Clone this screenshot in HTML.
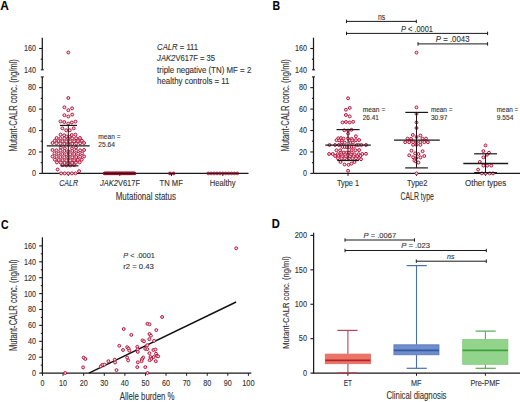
<!DOCTYPE html>
<html><head><meta charset="utf-8"><title>Mutant CALR figure</title>
<style>
html,body{margin:0;padding:0;background:#fff;}
body{width:520px;height:402px;overflow:hidden;}
svg{display:block;font-family:"Liberation Sans", sans-serif;}
text{stroke:#333;stroke-width:0.12px;}
</style></head>
<body>
<svg width="520" height="402" viewBox="0 0 520 402">
<rect width="520" height="402" fill="#fff"/>
<text x="0.20" y="9.80" font-size="12.2" text-anchor="start" font-weight="bold" font-style="normal" fill="#000" textLength="8.60" lengthAdjust="spacingAndGlyphs">A</text>
<line x1="42.30" y1="37.70" x2="42.30" y2="69.80" stroke="#1a1a1a" stroke-width="1.25"/>
<line x1="40.80" y1="69.80" x2="43.80" y2="69.80" stroke="#1a1a1a" stroke-width="1.1"/>
<line x1="42.30" y1="76.90" x2="42.30" y2="173.40" stroke="#1a1a1a" stroke-width="1.25"/>
<line x1="40.80" y1="76.90" x2="43.80" y2="76.90" stroke="#1a1a1a" stroke-width="1.1"/>
<line x1="39.10" y1="48.50" x2="42.30" y2="48.50" stroke="#1a1a1a" stroke-width="1.1"/>
<line x1="40.70" y1="59.20" x2="42.30" y2="59.20" stroke="#1a1a1a" stroke-width="1.1"/>
<line x1="39.10" y1="87.64" x2="42.30" y2="87.64" stroke="#1a1a1a" stroke-width="1.1"/>
<line x1="39.10" y1="109.08" x2="42.30" y2="109.08" stroke="#1a1a1a" stroke-width="1.1"/>
<line x1="39.10" y1="130.52" x2="42.30" y2="130.52" stroke="#1a1a1a" stroke-width="1.1"/>
<line x1="39.10" y1="151.96" x2="42.30" y2="151.96" stroke="#1a1a1a" stroke-width="1.1"/>
<line x1="39.10" y1="173.40" x2="42.30" y2="173.40" stroke="#1a1a1a" stroke-width="1.1"/>
<line x1="40.70" y1="98.36" x2="42.30" y2="98.36" stroke="#1a1a1a" stroke-width="1.1"/>
<line x1="40.70" y1="119.80" x2="42.30" y2="119.80" stroke="#1a1a1a" stroke-width="1.1"/>
<line x1="40.70" y1="141.24" x2="42.30" y2="141.24" stroke="#1a1a1a" stroke-width="1.1"/>
<line x1="40.70" y1="162.68" x2="42.30" y2="162.68" stroke="#1a1a1a" stroke-width="1.1"/>
<text x="35.90" y="51.30" font-size="8.5" text-anchor="end" font-weight="normal" font-style="normal" fill="#333333" textLength="12.00" lengthAdjust="spacingAndGlyphs">160</text>
<text x="35.90" y="72.70" font-size="8.5" text-anchor="end" font-weight="normal" font-style="normal" fill="#333333" textLength="12.00" lengthAdjust="spacingAndGlyphs">140</text>
<text x="35.90" y="90.44" font-size="8.5" text-anchor="end" font-weight="normal" font-style="normal" fill="#333333" textLength="8.00" lengthAdjust="spacingAndGlyphs">80</text>
<text x="35.90" y="111.88" font-size="8.5" text-anchor="end" font-weight="normal" font-style="normal" fill="#333333" textLength="8.00" lengthAdjust="spacingAndGlyphs">60</text>
<text x="35.90" y="133.32" font-size="8.5" text-anchor="end" font-weight="normal" font-style="normal" fill="#333333" textLength="8.00" lengthAdjust="spacingAndGlyphs">40</text>
<text x="35.90" y="154.76" font-size="8.5" text-anchor="end" font-weight="normal" font-style="normal" fill="#333333" textLength="8.00" lengthAdjust="spacingAndGlyphs">20</text>
<text x="35.90" y="176.20" font-size="8.5" text-anchor="end" font-weight="normal" font-style="normal" fill="#333333" textLength="4.00" lengthAdjust="spacingAndGlyphs">0</text>
<line x1="42.30" y1="173.40" x2="248.50" y2="173.40" stroke="#1a1a1a" stroke-width="1.25"/>
<line x1="68.30" y1="173.40" x2="68.30" y2="175.90" stroke="#1a1a1a" stroke-width="1.0"/>
<line x1="119.80" y1="173.40" x2="119.80" y2="175.90" stroke="#1a1a1a" stroke-width="1.0"/>
<line x1="171.50" y1="173.40" x2="171.50" y2="175.90" stroke="#1a1a1a" stroke-width="1.0"/>
<line x1="222.80" y1="173.40" x2="222.80" y2="175.90" stroke="#1a1a1a" stroke-width="1.0"/>
<text transform="translate(17.30,151.60) rotate(-90)" x="0" y="0" font-size="10.0" fill="#333333" textLength="92.50" lengthAdjust="spacingAndGlyphs">Mutant-CALR conc. (ng/ml)</text>
<circle cx="68.30" cy="52.50" r="1.45" fill="#fbdde3" stroke="#b8123a" stroke-width="1.0"/>
<circle cx="68.30" cy="98.00" r="1.45" fill="#fbdde3" stroke="#b8123a" stroke-width="1.0"/>
<circle cx="64.40" cy="107.30" r="1.45" fill="#fbdde3" stroke="#b8123a" stroke-width="1.0"/>
<circle cx="68.30" cy="110.20" r="1.45" fill="#fbdde3" stroke="#b8123a" stroke-width="1.0"/>
<circle cx="72.10" cy="108.30" r="1.45" fill="#fbdde3" stroke="#b8123a" stroke-width="1.0"/>
<circle cx="64.40" cy="115.20" r="1.45" fill="#fbdde3" stroke="#b8123a" stroke-width="1.0"/>
<circle cx="68.30" cy="116.50" r="1.45" fill="#fbdde3" stroke="#b8123a" stroke-width="1.0"/>
<circle cx="72.20" cy="114.60" r="1.45" fill="#fbdde3" stroke="#b8123a" stroke-width="1.0"/>
<circle cx="60.50" cy="121.40" r="1.45" fill="#fbdde3" stroke="#b8123a" stroke-width="1.0"/>
<circle cx="64.20" cy="122.00" r="1.45" fill="#fbdde3" stroke="#b8123a" stroke-width="1.0"/>
<circle cx="68.20" cy="123.50" r="1.45" fill="#fbdde3" stroke="#b8123a" stroke-width="1.0"/>
<circle cx="71.80" cy="122.50" r="1.45" fill="#fbdde3" stroke="#b8123a" stroke-width="1.0"/>
<circle cx="75.50" cy="121.60" r="1.45" fill="#fbdde3" stroke="#b8123a" stroke-width="1.0"/>
<circle cx="62.40" cy="128.30" r="1.45" fill="#fbdde3" stroke="#b8123a" stroke-width="1.0"/>
<circle cx="73.70" cy="128.30" r="1.45" fill="#fbdde3" stroke="#b8123a" stroke-width="1.0"/>
<circle cx="66.20" cy="130.30" r="1.45" fill="#fbdde3" stroke="#b8123a" stroke-width="1.0"/>
<circle cx="69.80" cy="130.30" r="1.45" fill="#fbdde3" stroke="#b8123a" stroke-width="1.0"/>
<circle cx="60.50" cy="134.60" r="1.45" fill="#fbdde3" stroke="#b8123a" stroke-width="1.0"/>
<circle cx="64.20" cy="135.30" r="1.45" fill="#fbdde3" stroke="#b8123a" stroke-width="1.0"/>
<circle cx="71.80" cy="135.00" r="1.45" fill="#fbdde3" stroke="#b8123a" stroke-width="1.0"/>
<circle cx="75.50" cy="134.60" r="1.45" fill="#fbdde3" stroke="#b8123a" stroke-width="1.0"/>
<circle cx="66.60" cy="136.60" r="1.45" fill="#fbdde3" stroke="#b8123a" stroke-width="1.0"/>
<circle cx="69.80" cy="137.00" r="1.45" fill="#fbdde3" stroke="#b8123a" stroke-width="1.0"/>
<circle cx="56.60" cy="138.00" r="1.45" fill="#fbdde3" stroke="#b8123a" stroke-width="1.0"/>
<circle cx="60.50" cy="138.20" r="1.45" fill="#fbdde3" stroke="#b8123a" stroke-width="1.0"/>
<circle cx="64.40" cy="138.40" r="1.45" fill="#fbdde3" stroke="#b8123a" stroke-width="1.0"/>
<circle cx="68.30" cy="138.60" r="1.45" fill="#fbdde3" stroke="#b8123a" stroke-width="1.0"/>
<circle cx="72.20" cy="138.40" r="1.45" fill="#fbdde3" stroke="#b8123a" stroke-width="1.0"/>
<circle cx="76.10" cy="138.20" r="1.45" fill="#fbdde3" stroke="#b8123a" stroke-width="1.0"/>
<circle cx="80.00" cy="138.00" r="1.45" fill="#fbdde3" stroke="#b8123a" stroke-width="1.0"/>
<circle cx="54.65" cy="140.80" r="1.45" fill="#fbdde3" stroke="#b8123a" stroke-width="1.0"/>
<circle cx="58.55" cy="141.03" r="1.45" fill="#fbdde3" stroke="#b8123a" stroke-width="1.0"/>
<circle cx="62.45" cy="141.26" r="1.45" fill="#fbdde3" stroke="#b8123a" stroke-width="1.0"/>
<circle cx="66.35" cy="141.49" r="1.45" fill="#fbdde3" stroke="#b8123a" stroke-width="1.0"/>
<circle cx="70.25" cy="141.49" r="1.45" fill="#fbdde3" stroke="#b8123a" stroke-width="1.0"/>
<circle cx="74.15" cy="141.26" r="1.45" fill="#fbdde3" stroke="#b8123a" stroke-width="1.0"/>
<circle cx="78.05" cy="141.03" r="1.45" fill="#fbdde3" stroke="#b8123a" stroke-width="1.0"/>
<circle cx="81.95" cy="140.80" r="1.45" fill="#fbdde3" stroke="#b8123a" stroke-width="1.0"/>
<circle cx="52.50" cy="143.00" r="1.45" fill="#fbdde3" stroke="#b8123a" stroke-width="1.0"/>
<circle cx="56.45" cy="143.30" r="1.45" fill="#fbdde3" stroke="#b8123a" stroke-width="1.0"/>
<circle cx="60.40" cy="143.60" r="1.45" fill="#fbdde3" stroke="#b8123a" stroke-width="1.0"/>
<circle cx="64.35" cy="143.90" r="1.45" fill="#fbdde3" stroke="#b8123a" stroke-width="1.0"/>
<circle cx="68.30" cy="144.20" r="1.45" fill="#fbdde3" stroke="#b8123a" stroke-width="1.0"/>
<circle cx="72.25" cy="143.90" r="1.45" fill="#fbdde3" stroke="#b8123a" stroke-width="1.0"/>
<circle cx="76.20" cy="143.60" r="1.45" fill="#fbdde3" stroke="#b8123a" stroke-width="1.0"/>
<circle cx="80.15" cy="143.30" r="1.45" fill="#fbdde3" stroke="#b8123a" stroke-width="1.0"/>
<circle cx="84.10" cy="143.00" r="1.45" fill="#fbdde3" stroke="#b8123a" stroke-width="1.0"/>
<circle cx="60.80" cy="147.60" r="1.45" fill="#fbdde3" stroke="#b8123a" stroke-width="1.0"/>
<circle cx="64.80" cy="148.40" r="1.45" fill="#fbdde3" stroke="#b8123a" stroke-width="1.0"/>
<circle cx="72.00" cy="148.40" r="1.45" fill="#fbdde3" stroke="#b8123a" stroke-width="1.0"/>
<circle cx="76.00" cy="147.60" r="1.45" fill="#fbdde3" stroke="#b8123a" stroke-width="1.0"/>
<circle cx="52.50" cy="150.00" r="1.45" fill="#fbdde3" stroke="#b8123a" stroke-width="1.0"/>
<circle cx="56.45" cy="150.30" r="1.45" fill="#fbdde3" stroke="#b8123a" stroke-width="1.0"/>
<circle cx="60.40" cy="150.60" r="1.45" fill="#fbdde3" stroke="#b8123a" stroke-width="1.0"/>
<circle cx="64.35" cy="150.90" r="1.45" fill="#fbdde3" stroke="#b8123a" stroke-width="1.0"/>
<circle cx="68.30" cy="151.20" r="1.45" fill="#fbdde3" stroke="#b8123a" stroke-width="1.0"/>
<circle cx="72.25" cy="150.90" r="1.45" fill="#fbdde3" stroke="#b8123a" stroke-width="1.0"/>
<circle cx="76.20" cy="150.60" r="1.45" fill="#fbdde3" stroke="#b8123a" stroke-width="1.0"/>
<circle cx="80.15" cy="150.30" r="1.45" fill="#fbdde3" stroke="#b8123a" stroke-width="1.0"/>
<circle cx="84.10" cy="150.00" r="1.45" fill="#fbdde3" stroke="#b8123a" stroke-width="1.0"/>
<circle cx="54.47" cy="153.40" r="1.45" fill="#fbdde3" stroke="#b8123a" stroke-width="1.0"/>
<circle cx="58.42" cy="153.69" r="1.45" fill="#fbdde3" stroke="#b8123a" stroke-width="1.0"/>
<circle cx="62.38" cy="153.97" r="1.45" fill="#fbdde3" stroke="#b8123a" stroke-width="1.0"/>
<circle cx="66.33" cy="154.26" r="1.45" fill="#fbdde3" stroke="#b8123a" stroke-width="1.0"/>
<circle cx="70.27" cy="154.26" r="1.45" fill="#fbdde3" stroke="#b8123a" stroke-width="1.0"/>
<circle cx="74.22" cy="153.97" r="1.45" fill="#fbdde3" stroke="#b8123a" stroke-width="1.0"/>
<circle cx="78.17" cy="153.69" r="1.45" fill="#fbdde3" stroke="#b8123a" stroke-width="1.0"/>
<circle cx="82.12" cy="153.40" r="1.45" fill="#fbdde3" stroke="#b8123a" stroke-width="1.0"/>
<circle cx="52.50" cy="156.50" r="1.45" fill="#fbdde3" stroke="#b8123a" stroke-width="1.0"/>
<circle cx="56.45" cy="156.75" r="1.45" fill="#fbdde3" stroke="#b8123a" stroke-width="1.0"/>
<circle cx="60.40" cy="157.00" r="1.45" fill="#fbdde3" stroke="#b8123a" stroke-width="1.0"/>
<circle cx="64.35" cy="157.25" r="1.45" fill="#fbdde3" stroke="#b8123a" stroke-width="1.0"/>
<circle cx="68.30" cy="157.50" r="1.45" fill="#fbdde3" stroke="#b8123a" stroke-width="1.0"/>
<circle cx="72.25" cy="157.25" r="1.45" fill="#fbdde3" stroke="#b8123a" stroke-width="1.0"/>
<circle cx="76.20" cy="157.00" r="1.45" fill="#fbdde3" stroke="#b8123a" stroke-width="1.0"/>
<circle cx="80.15" cy="156.75" r="1.45" fill="#fbdde3" stroke="#b8123a" stroke-width="1.0"/>
<circle cx="84.10" cy="156.50" r="1.45" fill="#fbdde3" stroke="#b8123a" stroke-width="1.0"/>
<circle cx="54.82" cy="159.70" r="1.45" fill="#fbdde3" stroke="#b8123a" stroke-width="1.0"/>
<circle cx="58.67" cy="159.93" r="1.45" fill="#fbdde3" stroke="#b8123a" stroke-width="1.0"/>
<circle cx="62.52" cy="160.16" r="1.45" fill="#fbdde3" stroke="#b8123a" stroke-width="1.0"/>
<circle cx="66.38" cy="160.39" r="1.45" fill="#fbdde3" stroke="#b8123a" stroke-width="1.0"/>
<circle cx="70.22" cy="160.39" r="1.45" fill="#fbdde3" stroke="#b8123a" stroke-width="1.0"/>
<circle cx="74.08" cy="160.16" r="1.45" fill="#fbdde3" stroke="#b8123a" stroke-width="1.0"/>
<circle cx="77.92" cy="159.93" r="1.45" fill="#fbdde3" stroke="#b8123a" stroke-width="1.0"/>
<circle cx="81.77" cy="159.70" r="1.45" fill="#fbdde3" stroke="#b8123a" stroke-width="1.0"/>
<circle cx="56.90" cy="162.40" r="1.45" fill="#fbdde3" stroke="#b8123a" stroke-width="1.0"/>
<circle cx="60.70" cy="162.67" r="1.45" fill="#fbdde3" stroke="#b8123a" stroke-width="1.0"/>
<circle cx="64.50" cy="162.93" r="1.45" fill="#fbdde3" stroke="#b8123a" stroke-width="1.0"/>
<circle cx="68.30" cy="163.20" r="1.45" fill="#fbdde3" stroke="#b8123a" stroke-width="1.0"/>
<circle cx="72.10" cy="162.93" r="1.45" fill="#fbdde3" stroke="#b8123a" stroke-width="1.0"/>
<circle cx="75.90" cy="162.67" r="1.45" fill="#fbdde3" stroke="#b8123a" stroke-width="1.0"/>
<circle cx="79.70" cy="162.40" r="1.45" fill="#fbdde3" stroke="#b8123a" stroke-width="1.0"/>
<circle cx="62.45" cy="165.20" r="1.45" fill="#fbdde3" stroke="#b8123a" stroke-width="1.0"/>
<circle cx="66.35" cy="165.47" r="1.45" fill="#fbdde3" stroke="#b8123a" stroke-width="1.0"/>
<circle cx="70.25" cy="165.47" r="1.45" fill="#fbdde3" stroke="#b8123a" stroke-width="1.0"/>
<circle cx="74.15" cy="165.20" r="1.45" fill="#fbdde3" stroke="#b8123a" stroke-width="1.0"/>
<circle cx="57.60" cy="169.50" r="1.45" fill="#fbdde3" stroke="#b8123a" stroke-width="1.0"/>
<circle cx="79.10" cy="171.20" r="1.45" fill="#fbdde3" stroke="#b8123a" stroke-width="1.0"/>
<circle cx="61.10" cy="173.40" r="1.45" fill="#fbdde3" stroke="#b8123a" stroke-width="1.0"/>
<circle cx="64.70" cy="173.40" r="1.45" fill="#fbdde3" stroke="#b8123a" stroke-width="1.0"/>
<circle cx="68.30" cy="173.40" r="1.45" fill="#fbdde3" stroke="#b8123a" stroke-width="1.0"/>
<circle cx="71.90" cy="173.40" r="1.45" fill="#fbdde3" stroke="#b8123a" stroke-width="1.0"/>
<circle cx="75.50" cy="173.40" r="1.45" fill="#fbdde3" stroke="#b8123a" stroke-width="1.0"/>
<line x1="46.80" y1="145.90" x2="89.70" y2="145.90" stroke="#1a1a1a" stroke-width="1.3"/>
<line x1="68.30" y1="125.40" x2="68.30" y2="165.80" stroke="#2a1015" stroke-width="1.0"/>
<line x1="60.00" y1="125.40" x2="77.00" y2="125.40" stroke="#1a1a1a" stroke-width="1.2"/>
<line x1="60.40" y1="165.80" x2="78.50" y2="165.80" stroke="#1a1a1a" stroke-width="1.2"/>
<rect x="103.2" y="171.7" width="32.8" height="3.4" rx="1.6" fill="#a3102c"/>
<circle cx="104.60" cy="173.40" r="1.3" fill="#b01834" stroke="#9a0e2a" stroke-width="0.8"/>
<circle cx="105.48" cy="173.40" r="1.3" fill="#b01834" stroke="#9a0e2a" stroke-width="0.8"/>
<circle cx="106.36" cy="173.40" r="1.3" fill="#b01834" stroke="#9a0e2a" stroke-width="0.8"/>
<circle cx="107.25" cy="173.40" r="1.3" fill="#b01834" stroke="#9a0e2a" stroke-width="0.8"/>
<circle cx="108.13" cy="173.40" r="1.3" fill="#b01834" stroke="#9a0e2a" stroke-width="0.8"/>
<circle cx="109.01" cy="173.40" r="1.3" fill="#b01834" stroke="#9a0e2a" stroke-width="0.8"/>
<circle cx="109.89" cy="173.40" r="1.3" fill="#b01834" stroke="#9a0e2a" stroke-width="0.8"/>
<circle cx="110.78" cy="173.40" r="1.3" fill="#b01834" stroke="#9a0e2a" stroke-width="0.8"/>
<circle cx="111.66" cy="173.40" r="1.3" fill="#b01834" stroke="#9a0e2a" stroke-width="0.8"/>
<circle cx="112.54" cy="173.40" r="1.3" fill="#b01834" stroke="#9a0e2a" stroke-width="0.8"/>
<circle cx="113.42" cy="173.40" r="1.3" fill="#b01834" stroke="#9a0e2a" stroke-width="0.8"/>
<circle cx="114.31" cy="173.40" r="1.3" fill="#b01834" stroke="#9a0e2a" stroke-width="0.8"/>
<circle cx="115.19" cy="173.40" r="1.3" fill="#b01834" stroke="#9a0e2a" stroke-width="0.8"/>
<circle cx="116.07" cy="173.40" r="1.3" fill="#b01834" stroke="#9a0e2a" stroke-width="0.8"/>
<circle cx="116.95" cy="173.40" r="1.3" fill="#b01834" stroke="#9a0e2a" stroke-width="0.8"/>
<circle cx="117.84" cy="173.40" r="1.3" fill="#b01834" stroke="#9a0e2a" stroke-width="0.8"/>
<circle cx="118.72" cy="173.40" r="1.3" fill="#b01834" stroke="#9a0e2a" stroke-width="0.8"/>
<circle cx="119.60" cy="173.40" r="1.3" fill="#b01834" stroke="#9a0e2a" stroke-width="0.8"/>
<circle cx="120.48" cy="173.40" r="1.3" fill="#b01834" stroke="#9a0e2a" stroke-width="0.8"/>
<circle cx="121.36" cy="173.40" r="1.3" fill="#b01834" stroke="#9a0e2a" stroke-width="0.8"/>
<circle cx="122.25" cy="173.40" r="1.3" fill="#b01834" stroke="#9a0e2a" stroke-width="0.8"/>
<circle cx="123.13" cy="173.40" r="1.3" fill="#b01834" stroke="#9a0e2a" stroke-width="0.8"/>
<circle cx="124.01" cy="173.40" r="1.3" fill="#b01834" stroke="#9a0e2a" stroke-width="0.8"/>
<circle cx="124.89" cy="173.40" r="1.3" fill="#b01834" stroke="#9a0e2a" stroke-width="0.8"/>
<circle cx="125.78" cy="173.40" r="1.3" fill="#b01834" stroke="#9a0e2a" stroke-width="0.8"/>
<circle cx="126.66" cy="173.40" r="1.3" fill="#b01834" stroke="#9a0e2a" stroke-width="0.8"/>
<circle cx="127.54" cy="173.40" r="1.3" fill="#b01834" stroke="#9a0e2a" stroke-width="0.8"/>
<circle cx="128.42" cy="173.40" r="1.3" fill="#b01834" stroke="#9a0e2a" stroke-width="0.8"/>
<circle cx="129.31" cy="173.40" r="1.3" fill="#b01834" stroke="#9a0e2a" stroke-width="0.8"/>
<circle cx="130.19" cy="173.40" r="1.3" fill="#b01834" stroke="#9a0e2a" stroke-width="0.8"/>
<circle cx="131.07" cy="173.40" r="1.3" fill="#b01834" stroke="#9a0e2a" stroke-width="0.8"/>
<circle cx="131.95" cy="173.40" r="1.3" fill="#b01834" stroke="#9a0e2a" stroke-width="0.8"/>
<circle cx="132.84" cy="173.40" r="1.3" fill="#b01834" stroke="#9a0e2a" stroke-width="0.8"/>
<circle cx="133.72" cy="173.40" r="1.3" fill="#b01834" stroke="#9a0e2a" stroke-width="0.8"/>
<circle cx="134.60" cy="173.40" r="1.3" fill="#b01834" stroke="#9a0e2a" stroke-width="0.8"/>
<circle cx="170.00" cy="173.40" r="1.5" fill="#c03050" stroke="#9a1c38" stroke-width="0.7"/>
<circle cx="173.60" cy="173.40" r="1.5" fill="#c03050" stroke="#9a1c38" stroke-width="0.7"/>
<circle cx="208.30" cy="173.40" r="1.45" fill="#c84a62" stroke="#9a1c38" stroke-width="0.7"/>
<circle cx="211.20" cy="173.40" r="1.45" fill="#c84a62" stroke="#9a1c38" stroke-width="0.7"/>
<circle cx="214.10" cy="173.40" r="1.45" fill="#c84a62" stroke="#9a1c38" stroke-width="0.7"/>
<circle cx="217.00" cy="173.40" r="1.45" fill="#c84a62" stroke="#9a1c38" stroke-width="0.7"/>
<circle cx="219.90" cy="173.40" r="1.45" fill="#c84a62" stroke="#9a1c38" stroke-width="0.7"/>
<circle cx="222.80" cy="173.40" r="1.45" fill="#c84a62" stroke="#9a1c38" stroke-width="0.7"/>
<circle cx="225.70" cy="173.40" r="1.45" fill="#c84a62" stroke="#9a1c38" stroke-width="0.7"/>
<circle cx="228.60" cy="173.40" r="1.45" fill="#c84a62" stroke="#9a1c38" stroke-width="0.7"/>
<circle cx="231.50" cy="173.40" r="1.45" fill="#c84a62" stroke="#9a1c38" stroke-width="0.7"/>
<circle cx="234.40" cy="173.40" r="1.45" fill="#c84a62" stroke="#9a1c38" stroke-width="0.7"/>
<circle cx="237.30" cy="173.40" r="1.45" fill="#c84a62" stroke="#9a1c38" stroke-width="0.7"/>
<line x1="103.50" y1="173.40" x2="135.50" y2="173.40" stroke="#3a0a14" stroke-width="1.0"/>
<line x1="168.50" y1="173.40" x2="175.00" y2="173.40" stroke="#3a0a14" stroke-width="1.0"/>
<line x1="207.00" y1="173.40" x2="239.00" y2="173.40" stroke="#3a0a14" stroke-width="1.0"/>
<text x="98.30" y="138.60" font-size="7.3" text-anchor="start" font-weight="normal" font-style="normal" fill="#333333" textLength="22.30" lengthAdjust="spacingAndGlyphs">mean =</text>
<text x="98.30" y="146.60" font-size="7.3" text-anchor="start" font-weight="normal" font-style="normal" fill="#333333" textLength="16.70" lengthAdjust="spacingAndGlyphs">25.64</text>
<text x="59.20" y="186.20" font-size="8.4" text-anchor="start" font-weight="normal" font-style="italic" fill="#333333" textLength="18.80" lengthAdjust="spacingAndGlyphs">CALR</text>
<text x="100.0" y="186.2" font-size="8.4" fill="#333333" textLength="40.0" lengthAdjust="spacingAndGlyphs"><tspan font-style="italic">JAK2</tspan>V617F</text>
<text x="159.50" y="186.20" font-size="8.4" text-anchor="start" font-weight="normal" font-style="normal" fill="#333333" textLength="23.30" lengthAdjust="spacingAndGlyphs">TN MF</text>
<text x="209.80" y="186.20" font-size="8.4" text-anchor="start" font-weight="normal" font-style="normal" fill="#333333" textLength="25.80" lengthAdjust="spacingAndGlyphs">Healthy</text>
<text x="115.70" y="200.00" font-size="10.4" text-anchor="start" font-weight="normal" font-style="normal" fill="#333333" textLength="60.30" lengthAdjust="spacingAndGlyphs">Mutational status</text>
<text x="157.1" y="49.8" font-size="8.5" fill="#333333" textLength="41.0" lengthAdjust="spacingAndGlyphs"><tspan font-style="italic">CALR</tspan> = 111</text>
<text x="157.1" y="61.2" font-size="8.5" fill="#333333" textLength="58.0" lengthAdjust="spacingAndGlyphs"><tspan font-style="italic">JAK2</tspan>V617F = 35</text>
<text x="157.10" y="72.70" font-size="8.5" text-anchor="start" font-weight="normal" font-style="normal" fill="#333333" textLength="94.20" lengthAdjust="spacingAndGlyphs">triple negative (TN) MF = 2</text>
<text x="157.10" y="84.10" font-size="8.5" text-anchor="start" font-weight="normal" font-style="normal" fill="#333333" textLength="72.40" lengthAdjust="spacingAndGlyphs">healthy controls = 11</text>
<text x="272.60" y="10.00" font-size="12.2" text-anchor="start" font-weight="bold" font-style="normal" fill="#000" textLength="7.60" lengthAdjust="spacingAndGlyphs">B</text>
<line x1="313.50" y1="37.70" x2="313.50" y2="69.80" stroke="#1a1a1a" stroke-width="1.25"/>
<line x1="312.00" y1="69.80" x2="315.00" y2="69.80" stroke="#1a1a1a" stroke-width="1.1"/>
<line x1="313.50" y1="76.90" x2="313.50" y2="173.40" stroke="#1a1a1a" stroke-width="1.25"/>
<line x1="312.00" y1="76.90" x2="315.00" y2="76.90" stroke="#1a1a1a" stroke-width="1.1"/>
<line x1="310.30" y1="48.50" x2="313.50" y2="48.50" stroke="#1a1a1a" stroke-width="1.1"/>
<line x1="311.90" y1="59.20" x2="313.50" y2="59.20" stroke="#1a1a1a" stroke-width="1.1"/>
<line x1="310.30" y1="87.64" x2="313.50" y2="87.64" stroke="#1a1a1a" stroke-width="1.1"/>
<line x1="310.30" y1="109.08" x2="313.50" y2="109.08" stroke="#1a1a1a" stroke-width="1.1"/>
<line x1="310.30" y1="130.52" x2="313.50" y2="130.52" stroke="#1a1a1a" stroke-width="1.1"/>
<line x1="310.30" y1="151.96" x2="313.50" y2="151.96" stroke="#1a1a1a" stroke-width="1.1"/>
<line x1="310.30" y1="173.40" x2="313.50" y2="173.40" stroke="#1a1a1a" stroke-width="1.1"/>
<line x1="311.90" y1="98.36" x2="313.50" y2="98.36" stroke="#1a1a1a" stroke-width="1.1"/>
<line x1="311.90" y1="119.80" x2="313.50" y2="119.80" stroke="#1a1a1a" stroke-width="1.1"/>
<line x1="311.90" y1="141.24" x2="313.50" y2="141.24" stroke="#1a1a1a" stroke-width="1.1"/>
<line x1="311.90" y1="162.68" x2="313.50" y2="162.68" stroke="#1a1a1a" stroke-width="1.1"/>
<text x="307.10" y="51.30" font-size="8.5" text-anchor="end" font-weight="normal" font-style="normal" fill="#333333" textLength="12.00" lengthAdjust="spacingAndGlyphs">160</text>
<text x="307.10" y="72.70" font-size="8.5" text-anchor="end" font-weight="normal" font-style="normal" fill="#333333" textLength="12.00" lengthAdjust="spacingAndGlyphs">140</text>
<text x="307.10" y="90.44" font-size="8.5" text-anchor="end" font-weight="normal" font-style="normal" fill="#333333" textLength="8.00" lengthAdjust="spacingAndGlyphs">80</text>
<text x="307.10" y="111.88" font-size="8.5" text-anchor="end" font-weight="normal" font-style="normal" fill="#333333" textLength="8.00" lengthAdjust="spacingAndGlyphs">60</text>
<text x="307.10" y="133.32" font-size="8.5" text-anchor="end" font-weight="normal" font-style="normal" fill="#333333" textLength="8.00" lengthAdjust="spacingAndGlyphs">40</text>
<text x="307.10" y="154.76" font-size="8.5" text-anchor="end" font-weight="normal" font-style="normal" fill="#333333" textLength="8.00" lengthAdjust="spacingAndGlyphs">20</text>
<text x="307.10" y="176.20" font-size="8.5" text-anchor="end" font-weight="normal" font-style="normal" fill="#333333" textLength="4.00" lengthAdjust="spacingAndGlyphs">0</text>
<line x1="313.50" y1="173.40" x2="520.00" y2="173.40" stroke="#1a1a1a" stroke-width="1.25"/>
<line x1="348.00" y1="173.40" x2="348.00" y2="175.90" stroke="#1a1a1a" stroke-width="1.0"/>
<line x1="416.50" y1="173.40" x2="416.50" y2="175.90" stroke="#1a1a1a" stroke-width="1.0"/>
<line x1="485.50" y1="173.40" x2="485.50" y2="175.90" stroke="#1a1a1a" stroke-width="1.0"/>
<text transform="translate(289.00,151.60) rotate(-90)" x="0" y="0" font-size="10.0" fill="#333333" textLength="92.40" lengthAdjust="spacingAndGlyphs">Mutant-CALR conc. (ng/ml)</text>
<line x1="346.50" y1="21.40" x2="416.30" y2="21.40" stroke="#1a1a1a" stroke-width="1.0"/>
<line x1="346.50" y1="19.70" x2="346.50" y2="23.10" stroke="#1a1a1a" stroke-width="1.0"/>
<line x1="416.30" y1="19.70" x2="416.30" y2="23.10" stroke="#1a1a1a" stroke-width="1.0"/>
<line x1="346.50" y1="33.40" x2="487.60" y2="33.40" stroke="#1a1a1a" stroke-width="1.0"/>
<line x1="346.50" y1="31.70" x2="346.50" y2="35.10" stroke="#1a1a1a" stroke-width="1.0"/>
<line x1="487.60" y1="31.70" x2="487.60" y2="35.10" stroke="#1a1a1a" stroke-width="1.0"/>
<line x1="418.00" y1="43.90" x2="487.60" y2="43.90" stroke="#1a1a1a" stroke-width="1.0"/>
<line x1="418.00" y1="42.20" x2="418.00" y2="45.60" stroke="#1a1a1a" stroke-width="1.0"/>
<line x1="487.60" y1="42.20" x2="487.60" y2="45.60" stroke="#1a1a1a" stroke-width="1.0"/>
<text x="378.00" y="19.70" font-size="8.2" text-anchor="start" font-weight="normal" font-style="normal" fill="#333333" textLength="7.20" lengthAdjust="spacingAndGlyphs">ns</text>
<text x="401.0" y="31.7" font-size="8.2" fill="#333333" textLength="32.0" lengthAdjust="spacingAndGlyphs"><tspan font-style="italic">P</tspan> &lt; .0001</text>
<text x="435.8" y="42.2" font-size="8.2" fill="#333333" textLength="33.7" lengthAdjust="spacingAndGlyphs"><tspan font-style="italic">P</tspan> = .0043</text>
<circle cx="348.10" cy="98.30" r="1.45" fill="#fbdde3" stroke="#b8123a" stroke-width="1.0"/>
<circle cx="345.90" cy="109.70" r="1.45" fill="#fbdde3" stroke="#b8123a" stroke-width="1.0"/>
<circle cx="349.70" cy="107.90" r="1.45" fill="#fbdde3" stroke="#b8123a" stroke-width="1.0"/>
<circle cx="345.90" cy="115.00" r="1.45" fill="#fbdde3" stroke="#b8123a" stroke-width="1.0"/>
<circle cx="349.70" cy="116.40" r="1.45" fill="#fbdde3" stroke="#b8123a" stroke-width="1.0"/>
<circle cx="342.50" cy="122.40" r="1.45" fill="#fbdde3" stroke="#b8123a" stroke-width="1.0"/>
<circle cx="345.90" cy="122.00" r="1.45" fill="#fbdde3" stroke="#b8123a" stroke-width="1.0"/>
<circle cx="349.70" cy="122.40" r="1.45" fill="#fbdde3" stroke="#b8123a" stroke-width="1.0"/>
<circle cx="353.20" cy="121.80" r="1.45" fill="#fbdde3" stroke="#b8123a" stroke-width="1.0"/>
<circle cx="344.30" cy="130.30" r="1.45" fill="#fbdde3" stroke="#b8123a" stroke-width="1.0"/>
<circle cx="348.10" cy="130.60" r="1.45" fill="#fbdde3" stroke="#b8123a" stroke-width="1.0"/>
<circle cx="351.50" cy="129.80" r="1.45" fill="#fbdde3" stroke="#b8123a" stroke-width="1.0"/>
<circle cx="348.10" cy="133.60" r="1.45" fill="#fbdde3" stroke="#b8123a" stroke-width="1.0"/>
<circle cx="355.90" cy="136.30" r="1.45" fill="#fbdde3" stroke="#b8123a" stroke-width="1.0"/>
<circle cx="338.30" cy="138.30" r="1.45" fill="#fbdde3" stroke="#b8123a" stroke-width="1.0"/>
<circle cx="341.00" cy="138.10" r="1.45" fill="#fbdde3" stroke="#b8123a" stroke-width="1.0"/>
<circle cx="343.60" cy="138.60" r="1.45" fill="#fbdde3" stroke="#b8123a" stroke-width="1.0"/>
<circle cx="348.00" cy="138.40" r="1.45" fill="#fbdde3" stroke="#b8123a" stroke-width="1.0"/>
<circle cx="351.70" cy="138.80" r="1.45" fill="#fbdde3" stroke="#b8123a" stroke-width="1.0"/>
<circle cx="336.50" cy="140.20" r="1.45" fill="#fbdde3" stroke="#b8123a" stroke-width="1.0"/>
<circle cx="339.20" cy="140.40" r="1.45" fill="#fbdde3" stroke="#b8123a" stroke-width="1.0"/>
<circle cx="342.00" cy="140.60" r="1.45" fill="#fbdde3" stroke="#b8123a" stroke-width="1.0"/>
<circle cx="349.90" cy="140.60" r="1.45" fill="#fbdde3" stroke="#b8123a" stroke-width="1.0"/>
<circle cx="352.40" cy="140.40" r="1.45" fill="#fbdde3" stroke="#b8123a" stroke-width="1.0"/>
<circle cx="355.90" cy="140.20" r="1.45" fill="#fbdde3" stroke="#b8123a" stroke-width="1.0"/>
<circle cx="359.10" cy="140.00" r="1.45" fill="#fbdde3" stroke="#b8123a" stroke-width="1.0"/>
<circle cx="342.00" cy="142.50" r="1.45" fill="#fbdde3" stroke="#b8123a" stroke-width="1.0"/>
<circle cx="344.80" cy="142.70" r="1.45" fill="#fbdde3" stroke="#b8123a" stroke-width="1.0"/>
<circle cx="350.80" cy="142.70" r="1.45" fill="#fbdde3" stroke="#b8123a" stroke-width="1.0"/>
<circle cx="353.00" cy="142.50" r="1.45" fill="#fbdde3" stroke="#b8123a" stroke-width="1.0"/>
<circle cx="335.10" cy="145.00" r="1.45" fill="#fbdde3" stroke="#b8123a" stroke-width="1.0"/>
<circle cx="338.80" cy="145.00" r="1.45" fill="#fbdde3" stroke="#b8123a" stroke-width="1.0"/>
<circle cx="341.50" cy="145.00" r="1.45" fill="#fbdde3" stroke="#b8123a" stroke-width="1.0"/>
<circle cx="356.80" cy="145.00" r="1.45" fill="#fbdde3" stroke="#b8123a" stroke-width="1.0"/>
<circle cx="358.60" cy="145.00" r="1.45" fill="#fbdde3" stroke="#b8123a" stroke-width="1.0"/>
<circle cx="361.40" cy="145.00" r="1.45" fill="#fbdde3" stroke="#b8123a" stroke-width="1.0"/>
<circle cx="329.50" cy="145.00" r="1.45" fill="#fbdde3" stroke="#b8123a" stroke-width="1.0"/>
<circle cx="366.00" cy="145.00" r="1.45" fill="#fbdde3" stroke="#b8123a" stroke-width="1.0"/>
<circle cx="342.50" cy="146.90" r="1.45" fill="#fbdde3" stroke="#b8123a" stroke-width="1.0"/>
<circle cx="344.80" cy="147.00" r="1.45" fill="#fbdde3" stroke="#b8123a" stroke-width="1.0"/>
<circle cx="347.10" cy="147.10" r="1.45" fill="#fbdde3" stroke="#b8123a" stroke-width="1.0"/>
<circle cx="349.40" cy="147.00" r="1.45" fill="#fbdde3" stroke="#b8123a" stroke-width="1.0"/>
<circle cx="351.70" cy="146.90" r="1.45" fill="#fbdde3" stroke="#b8123a" stroke-width="1.0"/>
<circle cx="353.80" cy="146.80" r="1.45" fill="#fbdde3" stroke="#b8123a" stroke-width="1.0"/>
<circle cx="336.50" cy="150.30" r="1.45" fill="#fbdde3" stroke="#b8123a" stroke-width="1.0"/>
<circle cx="340.20" cy="150.30" r="1.45" fill="#fbdde3" stroke="#b8123a" stroke-width="1.0"/>
<circle cx="351.70" cy="150.30" r="1.45" fill="#fbdde3" stroke="#b8123a" stroke-width="1.0"/>
<circle cx="355.40" cy="150.30" r="1.45" fill="#fbdde3" stroke="#b8123a" stroke-width="1.0"/>
<circle cx="359.10" cy="150.10" r="1.45" fill="#fbdde3" stroke="#b8123a" stroke-width="1.0"/>
<circle cx="341.10" cy="152.60" r="1.45" fill="#fbdde3" stroke="#b8123a" stroke-width="1.0"/>
<circle cx="343.90" cy="152.60" r="1.45" fill="#fbdde3" stroke="#b8123a" stroke-width="1.0"/>
<circle cx="346.60" cy="152.70" r="1.45" fill="#fbdde3" stroke="#b8123a" stroke-width="1.0"/>
<circle cx="348.90" cy="152.60" r="1.45" fill="#fbdde3" stroke="#b8123a" stroke-width="1.0"/>
<circle cx="351.70" cy="152.60" r="1.45" fill="#fbdde3" stroke="#b8123a" stroke-width="1.0"/>
<circle cx="329.10" cy="154.00" r="1.45" fill="#fbdde3" stroke="#b8123a" stroke-width="1.0"/>
<circle cx="332.80" cy="154.00" r="1.45" fill="#fbdde3" stroke="#b8123a" stroke-width="1.0"/>
<circle cx="337.90" cy="154.20" r="1.45" fill="#fbdde3" stroke="#b8123a" stroke-width="1.0"/>
<circle cx="341.50" cy="154.40" r="1.45" fill="#fbdde3" stroke="#b8123a" stroke-width="1.0"/>
<circle cx="345.20" cy="154.50" r="1.45" fill="#fbdde3" stroke="#b8123a" stroke-width="1.0"/>
<circle cx="350.80" cy="154.50" r="1.45" fill="#fbdde3" stroke="#b8123a" stroke-width="1.0"/>
<circle cx="354.50" cy="154.40" r="1.45" fill="#fbdde3" stroke="#b8123a" stroke-width="1.0"/>
<circle cx="358.60" cy="154.20" r="1.45" fill="#fbdde3" stroke="#b8123a" stroke-width="1.0"/>
<circle cx="362.30" cy="154.00" r="1.45" fill="#fbdde3" stroke="#b8123a" stroke-width="1.0"/>
<circle cx="366.00" cy="153.80" r="1.45" fill="#fbdde3" stroke="#b8123a" stroke-width="1.0"/>
<circle cx="335.10" cy="155.90" r="1.45" fill="#fbdde3" stroke="#b8123a" stroke-width="1.0"/>
<circle cx="338.30" cy="156.10" r="1.45" fill="#fbdde3" stroke="#b8123a" stroke-width="1.0"/>
<circle cx="342.00" cy="156.30" r="1.45" fill="#fbdde3" stroke="#b8123a" stroke-width="1.0"/>
<circle cx="345.70" cy="156.40" r="1.45" fill="#fbdde3" stroke="#b8123a" stroke-width="1.0"/>
<circle cx="349.90" cy="156.40" r="1.45" fill="#fbdde3" stroke="#b8123a" stroke-width="1.0"/>
<circle cx="353.50" cy="156.30" r="1.45" fill="#fbdde3" stroke="#b8123a" stroke-width="1.0"/>
<circle cx="357.20" cy="156.10" r="1.45" fill="#fbdde3" stroke="#b8123a" stroke-width="1.0"/>
<circle cx="360.50" cy="155.90" r="1.45" fill="#fbdde3" stroke="#b8123a" stroke-width="1.0"/>
<circle cx="337.90" cy="158.20" r="1.45" fill="#fbdde3" stroke="#b8123a" stroke-width="1.0"/>
<circle cx="341.50" cy="158.40" r="1.45" fill="#fbdde3" stroke="#b8123a" stroke-width="1.0"/>
<circle cx="344.80" cy="158.50" r="1.45" fill="#fbdde3" stroke="#b8123a" stroke-width="1.0"/>
<circle cx="348.90" cy="158.50" r="1.45" fill="#fbdde3" stroke="#b8123a" stroke-width="1.0"/>
<circle cx="352.60" cy="158.40" r="1.45" fill="#fbdde3" stroke="#b8123a" stroke-width="1.0"/>
<circle cx="355.90" cy="158.30" r="1.45" fill="#fbdde3" stroke="#b8123a" stroke-width="1.0"/>
<circle cx="359.10" cy="158.10" r="1.45" fill="#fbdde3" stroke="#b8123a" stroke-width="1.0"/>
<circle cx="361.00" cy="159.20" r="1.45" fill="#fbdde3" stroke="#b8123a" stroke-width="1.0"/>
<circle cx="340.50" cy="162.00" r="1.45" fill="#fbdde3" stroke="#b8123a" stroke-width="1.0"/>
<circle cx="354.50" cy="162.00" r="1.45" fill="#fbdde3" stroke="#b8123a" stroke-width="1.0"/>
<circle cx="344.50" cy="164.50" r="1.45" fill="#fbdde3" stroke="#b8123a" stroke-width="1.0"/>
<circle cx="348.50" cy="164.80" r="1.45" fill="#fbdde3" stroke="#b8123a" stroke-width="1.0"/>
<circle cx="351.50" cy="163.60" r="1.45" fill="#fbdde3" stroke="#b8123a" stroke-width="1.0"/>
<circle cx="348.10" cy="170.80" r="1.45" fill="#fbdde3" stroke="#b8123a" stroke-width="1.0"/>
<line x1="325.30" y1="145.20" x2="370.80" y2="145.20" stroke="#1a1a1a" stroke-width="1.3"/>
<line x1="348.00" y1="129.60" x2="348.00" y2="160.50" stroke="#2a1015" stroke-width="1.0"/>
<line x1="336.50" y1="129.60" x2="359.60" y2="129.60" stroke="#1a1a1a" stroke-width="1.2"/>
<line x1="337.20" y1="160.50" x2="358.90" y2="160.50" stroke="#1a1a1a" stroke-width="1.2"/>
<text x="362.80" y="111.80" font-size="7.3" text-anchor="start" font-weight="normal" font-style="normal" fill="#333333" textLength="22.50" lengthAdjust="spacingAndGlyphs">mean =</text>
<text x="362.80" y="119.50" font-size="7.3" text-anchor="start" font-weight="normal" font-style="normal" fill="#333333" textLength="16.10" lengthAdjust="spacingAndGlyphs">26.41</text>
<circle cx="416.50" cy="52.60" r="1.45" fill="#fbdde3" stroke="#b8123a" stroke-width="1.0"/>
<circle cx="416.50" cy="107.40" r="1.45" fill="#fbdde3" stroke="#b8123a" stroke-width="1.0"/>
<circle cx="416.50" cy="113.80" r="1.45" fill="#fbdde3" stroke="#b8123a" stroke-width="1.0"/>
<circle cx="416.50" cy="122.40" r="1.45" fill="#fbdde3" stroke="#b8123a" stroke-width="1.0"/>
<circle cx="416.50" cy="128.00" r="1.45" fill="#fbdde3" stroke="#b8123a" stroke-width="1.0"/>
<circle cx="412.80" cy="134.90" r="1.45" fill="#fbdde3" stroke="#b8123a" stroke-width="1.0"/>
<circle cx="420.40" cy="135.50" r="1.45" fill="#fbdde3" stroke="#b8123a" stroke-width="1.0"/>
<circle cx="416.50" cy="137.00" r="1.45" fill="#fbdde3" stroke="#b8123a" stroke-width="1.0"/>
<circle cx="407.60" cy="138.60" r="1.45" fill="#fbdde3" stroke="#b8123a" stroke-width="1.0"/>
<circle cx="411.10" cy="138.90" r="1.45" fill="#fbdde3" stroke="#b8123a" stroke-width="1.0"/>
<circle cx="422.50" cy="138.70" r="1.45" fill="#fbdde3" stroke="#b8123a" stroke-width="1.0"/>
<circle cx="426.00" cy="138.60" r="1.45" fill="#fbdde3" stroke="#b8123a" stroke-width="1.0"/>
<circle cx="405.20" cy="142.20" r="1.45" fill="#fbdde3" stroke="#b8123a" stroke-width="1.0"/>
<circle cx="409.20" cy="142.20" r="1.45" fill="#fbdde3" stroke="#b8123a" stroke-width="1.0"/>
<circle cx="413.10" cy="142.20" r="1.45" fill="#fbdde3" stroke="#b8123a" stroke-width="1.0"/>
<circle cx="416.50" cy="142.20" r="1.45" fill="#fbdde3" stroke="#b8123a" stroke-width="1.0"/>
<circle cx="420.40" cy="142.20" r="1.45" fill="#fbdde3" stroke="#b8123a" stroke-width="1.0"/>
<circle cx="424.30" cy="142.20" r="1.45" fill="#fbdde3" stroke="#b8123a" stroke-width="1.0"/>
<circle cx="427.90" cy="142.20" r="1.45" fill="#fbdde3" stroke="#b8123a" stroke-width="1.0"/>
<circle cx="413.10" cy="144.80" r="1.45" fill="#fbdde3" stroke="#b8123a" stroke-width="1.0"/>
<circle cx="416.50" cy="144.90" r="1.45" fill="#fbdde3" stroke="#b8123a" stroke-width="1.0"/>
<circle cx="420.40" cy="144.80" r="1.45" fill="#fbdde3" stroke="#b8123a" stroke-width="1.0"/>
<circle cx="411.50" cy="150.70" r="1.45" fill="#fbdde3" stroke="#b8123a" stroke-width="1.0"/>
<circle cx="422.60" cy="151.20" r="1.45" fill="#fbdde3" stroke="#b8123a" stroke-width="1.0"/>
<circle cx="415.10" cy="153.40" r="1.45" fill="#fbdde3" stroke="#b8123a" stroke-width="1.0"/>
<circle cx="418.40" cy="154.00" r="1.45" fill="#fbdde3" stroke="#b8123a" stroke-width="1.0"/>
<circle cx="409.20" cy="155.30" r="1.45" fill="#fbdde3" stroke="#b8123a" stroke-width="1.0"/>
<circle cx="424.30" cy="156.00" r="1.45" fill="#fbdde3" stroke="#b8123a" stroke-width="1.0"/>
<circle cx="413.10" cy="157.30" r="1.45" fill="#fbdde3" stroke="#b8123a" stroke-width="1.0"/>
<circle cx="416.40" cy="158.00" r="1.45" fill="#fbdde3" stroke="#b8123a" stroke-width="1.0"/>
<circle cx="420.40" cy="157.50" r="1.45" fill="#fbdde3" stroke="#b8123a" stroke-width="1.0"/>
<circle cx="414.40" cy="160.50" r="1.45" fill="#fbdde3" stroke="#b8123a" stroke-width="1.0"/>
<circle cx="416.00" cy="161.50" r="1.45" fill="#fbdde3" stroke="#b8123a" stroke-width="1.0"/>
<circle cx="418.40" cy="162.60" r="1.45" fill="#fbdde3" stroke="#b8123a" stroke-width="1.0"/>
<circle cx="416.50" cy="173.40" r="1.45" fill="#fbdde3" stroke="#b8123a" stroke-width="1.0"/>
<line x1="394.00" y1="140.20" x2="439.80" y2="140.20" stroke="#1a1a1a" stroke-width="1.3"/>
<line x1="416.50" y1="112.40" x2="416.50" y2="167.90" stroke="#2a1015" stroke-width="1.0"/>
<line x1="405.30" y1="112.40" x2="428.10" y2="112.40" stroke="#1a1a1a" stroke-width="1.2"/>
<line x1="405.20" y1="167.90" x2="427.90" y2="167.90" stroke="#1a1a1a" stroke-width="1.2"/>
<text x="430.90" y="111.80" font-size="7.3" text-anchor="start" font-weight="normal" font-style="normal" fill="#333333" textLength="21.50" lengthAdjust="spacingAndGlyphs">mean =</text>
<text x="430.90" y="119.50" font-size="7.3" text-anchor="start" font-weight="normal" font-style="normal" fill="#333333" textLength="16.40" lengthAdjust="spacingAndGlyphs">30.97</text>
<circle cx="485.50" cy="145.40" r="1.45" fill="#fbdde3" stroke="#b8123a" stroke-width="1.0"/>
<circle cx="483.40" cy="151.10" r="1.45" fill="#fbdde3" stroke="#b8123a" stroke-width="1.0"/>
<circle cx="489.00" cy="152.70" r="1.45" fill="#fbdde3" stroke="#b8123a" stroke-width="1.0"/>
<circle cx="487.00" cy="154.70" r="1.45" fill="#fbdde3" stroke="#b8123a" stroke-width="1.0"/>
<circle cx="483.40" cy="157.30" r="1.45" fill="#fbdde3" stroke="#b8123a" stroke-width="1.0"/>
<circle cx="479.80" cy="161.90" r="1.45" fill="#fbdde3" stroke="#b8123a" stroke-width="1.0"/>
<circle cx="483.40" cy="165.60" r="1.45" fill="#fbdde3" stroke="#b8123a" stroke-width="1.0"/>
<circle cx="487.20" cy="165.60" r="1.45" fill="#fbdde3" stroke="#b8123a" stroke-width="1.0"/>
<circle cx="491.30" cy="165.60" r="1.45" fill="#fbdde3" stroke="#b8123a" stroke-width="1.0"/>
<circle cx="478.10" cy="169.60" r="1.45" fill="#fbdde3" stroke="#b8123a" stroke-width="1.0"/>
<circle cx="481.80" cy="173.40" r="1.45" fill="#fbdde3" stroke="#b8123a" stroke-width="1.0"/>
<circle cx="485.50" cy="173.40" r="1.45" fill="#fbdde3" stroke="#b8123a" stroke-width="1.0"/>
<circle cx="489.70" cy="173.40" r="1.45" fill="#fbdde3" stroke="#b8123a" stroke-width="1.0"/>
<circle cx="493.00" cy="173.40" r="1.45" fill="#fbdde3" stroke="#b8123a" stroke-width="1.0"/>
<line x1="463.30" y1="163.50" x2="508.20" y2="163.50" stroke="#1a1a1a" stroke-width="1.3"/>
<line x1="485.50" y1="153.80" x2="485.50" y2="172.80" stroke="#2a1015" stroke-width="1.0"/>
<line x1="474.10" y1="153.80" x2="497.00" y2="153.80" stroke="#1a1a1a" stroke-width="1.2"/>
<line x1="474.10" y1="172.60" x2="497.00" y2="172.60" stroke="#1a1a1a" stroke-width="1.2"/>
<text x="496.80" y="111.80" font-size="7.3" text-anchor="start" font-weight="normal" font-style="normal" fill="#333333" textLength="21.40" lengthAdjust="spacingAndGlyphs">mean =</text>
<text x="496.80" y="119.50" font-size="7.3" text-anchor="start" font-weight="normal" font-style="normal" fill="#333333" textLength="16.50" lengthAdjust="spacingAndGlyphs">9.554</text>
<text x="336.90" y="186.30" font-size="8.4" text-anchor="start" font-weight="normal" font-style="normal" fill="#333333" textLength="22.10" lengthAdjust="spacingAndGlyphs">Type 1</text>
<text x="407.00" y="186.30" font-size="8.4" text-anchor="start" font-weight="normal" font-style="normal" fill="#333333" textLength="20.50" lengthAdjust="spacingAndGlyphs">Type2</text>
<text x="465.00" y="186.30" font-size="8.4" text-anchor="start" font-weight="normal" font-style="normal" fill="#333333" textLength="41.20" lengthAdjust="spacingAndGlyphs">Other types</text>
<text x="400.50" y="199.60" font-size="10.4" text-anchor="start" font-weight="normal" font-style="normal" fill="#333333" textLength="33.30" lengthAdjust="spacingAndGlyphs">CALR type</text>
<text x="1.00" y="228.50" font-size="12.2" text-anchor="start" font-weight="bold" font-style="normal" fill="#000" textLength="7.60" lengthAdjust="spacingAndGlyphs">C</text>
<line x1="42.40" y1="237.30" x2="42.40" y2="373.10" stroke="#1a1a1a" stroke-width="1.25"/>
<line x1="41.40" y1="373.10" x2="251.30" y2="373.10" stroke="#1a1a1a" stroke-width="1.25"/>
<line x1="39.20" y1="373.10" x2="42.40" y2="373.10" stroke="#1a1a1a" stroke-width="1.1"/>
<text x="36.10" y="376.00" font-size="8.5" text-anchor="end" font-weight="normal" font-style="normal" fill="#333333" textLength="4.00" lengthAdjust="spacingAndGlyphs">0</text>
<line x1="39.20" y1="357.20" x2="42.40" y2="357.20" stroke="#1a1a1a" stroke-width="1.1"/>
<text x="36.10" y="360.10" font-size="8.5" text-anchor="end" font-weight="normal" font-style="normal" fill="#333333" textLength="8.00" lengthAdjust="spacingAndGlyphs">20</text>
<line x1="39.20" y1="341.30" x2="42.40" y2="341.30" stroke="#1a1a1a" stroke-width="1.1"/>
<text x="36.10" y="344.20" font-size="8.5" text-anchor="end" font-weight="normal" font-style="normal" fill="#333333" textLength="8.00" lengthAdjust="spacingAndGlyphs">40</text>
<line x1="39.20" y1="325.40" x2="42.40" y2="325.40" stroke="#1a1a1a" stroke-width="1.1"/>
<text x="36.10" y="328.30" font-size="8.5" text-anchor="end" font-weight="normal" font-style="normal" fill="#333333" textLength="8.00" lengthAdjust="spacingAndGlyphs">60</text>
<line x1="39.20" y1="309.50" x2="42.40" y2="309.50" stroke="#1a1a1a" stroke-width="1.1"/>
<text x="36.10" y="312.40" font-size="8.5" text-anchor="end" font-weight="normal" font-style="normal" fill="#333333" textLength="8.00" lengthAdjust="spacingAndGlyphs">80</text>
<line x1="39.20" y1="293.60" x2="42.40" y2="293.60" stroke="#1a1a1a" stroke-width="1.1"/>
<text x="36.10" y="296.50" font-size="8.5" text-anchor="end" font-weight="normal" font-style="normal" fill="#333333" textLength="12.00" lengthAdjust="spacingAndGlyphs">100</text>
<line x1="39.20" y1="277.70" x2="42.40" y2="277.70" stroke="#1a1a1a" stroke-width="1.1"/>
<text x="36.10" y="280.60" font-size="8.5" text-anchor="end" font-weight="normal" font-style="normal" fill="#333333" textLength="12.00" lengthAdjust="spacingAndGlyphs">120</text>
<line x1="39.20" y1="261.80" x2="42.40" y2="261.80" stroke="#1a1a1a" stroke-width="1.1"/>
<text x="36.10" y="264.70" font-size="8.5" text-anchor="end" font-weight="normal" font-style="normal" fill="#333333" textLength="12.00" lengthAdjust="spacingAndGlyphs">140</text>
<line x1="39.20" y1="245.90" x2="42.40" y2="245.90" stroke="#1a1a1a" stroke-width="1.1"/>
<text x="36.10" y="248.80" font-size="8.5" text-anchor="end" font-weight="normal" font-style="normal" fill="#333333" textLength="12.00" lengthAdjust="spacingAndGlyphs">160</text>
<line x1="40.80" y1="365.15" x2="42.40" y2="365.15" stroke="#1a1a1a" stroke-width="1.1"/>
<line x1="40.80" y1="349.25" x2="42.40" y2="349.25" stroke="#1a1a1a" stroke-width="1.1"/>
<line x1="40.80" y1="333.35" x2="42.40" y2="333.35" stroke="#1a1a1a" stroke-width="1.1"/>
<line x1="40.80" y1="317.45" x2="42.40" y2="317.45" stroke="#1a1a1a" stroke-width="1.1"/>
<line x1="40.80" y1="301.55" x2="42.40" y2="301.55" stroke="#1a1a1a" stroke-width="1.1"/>
<line x1="40.80" y1="285.65" x2="42.40" y2="285.65" stroke="#1a1a1a" stroke-width="1.1"/>
<line x1="40.80" y1="269.75" x2="42.40" y2="269.75" stroke="#1a1a1a" stroke-width="1.1"/>
<line x1="40.80" y1="253.85" x2="42.40" y2="253.85" stroke="#1a1a1a" stroke-width="1.1"/>
<line x1="42.50" y1="373.10" x2="42.50" y2="375.80" stroke="#1a1a1a" stroke-width="1.0"/>
<text x="42.50" y="386.00" font-size="8.5" text-anchor="middle" font-weight="normal" font-style="normal" fill="#333333" textLength="4.00" lengthAdjust="spacingAndGlyphs">0</text>
<line x1="63.09" y1="373.10" x2="63.09" y2="375.80" stroke="#1a1a1a" stroke-width="1.0"/>
<text x="63.09" y="386.00" font-size="8.5" text-anchor="middle" font-weight="normal" font-style="normal" fill="#333333" textLength="8.00" lengthAdjust="spacingAndGlyphs">10</text>
<line x1="83.68" y1="373.10" x2="83.68" y2="375.80" stroke="#1a1a1a" stroke-width="1.0"/>
<text x="83.68" y="386.00" font-size="8.5" text-anchor="middle" font-weight="normal" font-style="normal" fill="#333333" textLength="8.00" lengthAdjust="spacingAndGlyphs">20</text>
<line x1="104.27" y1="373.10" x2="104.27" y2="375.80" stroke="#1a1a1a" stroke-width="1.0"/>
<text x="104.27" y="386.00" font-size="8.5" text-anchor="middle" font-weight="normal" font-style="normal" fill="#333333" textLength="8.00" lengthAdjust="spacingAndGlyphs">30</text>
<line x1="124.86" y1="373.10" x2="124.86" y2="375.80" stroke="#1a1a1a" stroke-width="1.0"/>
<text x="124.86" y="386.00" font-size="8.5" text-anchor="middle" font-weight="normal" font-style="normal" fill="#333333" textLength="8.00" lengthAdjust="spacingAndGlyphs">40</text>
<line x1="145.45" y1="373.10" x2="145.45" y2="375.80" stroke="#1a1a1a" stroke-width="1.0"/>
<text x="145.45" y="386.00" font-size="8.5" text-anchor="middle" font-weight="normal" font-style="normal" fill="#333333" textLength="8.00" lengthAdjust="spacingAndGlyphs">50</text>
<line x1="166.04" y1="373.10" x2="166.04" y2="375.80" stroke="#1a1a1a" stroke-width="1.0"/>
<text x="166.04" y="386.00" font-size="8.5" text-anchor="middle" font-weight="normal" font-style="normal" fill="#333333" textLength="8.00" lengthAdjust="spacingAndGlyphs">60</text>
<line x1="186.63" y1="373.10" x2="186.63" y2="375.80" stroke="#1a1a1a" stroke-width="1.0"/>
<text x="186.63" y="386.00" font-size="8.5" text-anchor="middle" font-weight="normal" font-style="normal" fill="#333333" textLength="8.00" lengthAdjust="spacingAndGlyphs">70</text>
<line x1="207.22" y1="373.10" x2="207.22" y2="375.80" stroke="#1a1a1a" stroke-width="1.0"/>
<text x="207.22" y="386.00" font-size="8.5" text-anchor="middle" font-weight="normal" font-style="normal" fill="#333333" textLength="8.00" lengthAdjust="spacingAndGlyphs">80</text>
<line x1="227.81" y1="373.10" x2="227.81" y2="375.80" stroke="#1a1a1a" stroke-width="1.0"/>
<text x="227.81" y="386.00" font-size="8.5" text-anchor="middle" font-weight="normal" font-style="normal" fill="#333333" textLength="8.00" lengthAdjust="spacingAndGlyphs">90</text>
<line x1="248.40" y1="373.10" x2="248.40" y2="375.80" stroke="#1a1a1a" stroke-width="1.0"/>
<text x="248.40" y="386.00" font-size="8.5" text-anchor="middle" font-weight="normal" font-style="normal" fill="#333333" textLength="12.40" lengthAdjust="spacingAndGlyphs">100</text>
<text transform="translate(17.40,351.00) rotate(-90)" x="0" y="0" font-size="10.0" fill="#333333" textLength="91.60" lengthAdjust="spacingAndGlyphs">Mutant-CALR conc. (ng/ml)</text>
<text x="119.70" y="399.70" font-size="10.4" text-anchor="start" font-weight="normal" font-style="normal" fill="#333333" textLength="54.90" lengthAdjust="spacingAndGlyphs">Allele burden %</text>
<text x="123.2" y="257.8" font-size="7.6" fill="#333333" textLength="31.7" lengthAdjust="spacingAndGlyphs"><tspan font-style="italic">P</tspan> &lt; .0001</text>
<text x="123.20" y="269.00" font-size="7.6" text-anchor="start" font-weight="normal" font-style="normal" fill="#333333" textLength="30.70" lengthAdjust="spacingAndGlyphs">r2 = 0.43</text>
<line x1="88.90" y1="373.10" x2="236.10" y2="302.00" stroke="#111" stroke-width="1.4"/>
<circle cx="65.20" cy="373.00" r="1.45" fill="#fbdde3" stroke="#b8123a" stroke-width="1.0"/>
<circle cx="83.10" cy="367.40" r="1.45" fill="#fbdde3" stroke="#b8123a" stroke-width="1.0"/>
<circle cx="83.60" cy="357.60" r="1.45" fill="#fbdde3" stroke="#b8123a" stroke-width="1.0"/>
<circle cx="85.40" cy="359.00" r="1.45" fill="#fbdde3" stroke="#b8123a" stroke-width="1.0"/>
<circle cx="100.80" cy="366.40" r="1.45" fill="#fbdde3" stroke="#b8123a" stroke-width="1.0"/>
<circle cx="102.40" cy="364.80" r="1.45" fill="#fbdde3" stroke="#b8123a" stroke-width="1.0"/>
<circle cx="104.50" cy="364.60" r="1.45" fill="#fbdde3" stroke="#b8123a" stroke-width="1.0"/>
<circle cx="108.40" cy="361.20" r="1.45" fill="#fbdde3" stroke="#b8123a" stroke-width="1.0"/>
<circle cx="114.70" cy="359.70" r="1.45" fill="#fbdde3" stroke="#b8123a" stroke-width="1.0"/>
<circle cx="115.10" cy="362.50" r="1.45" fill="#fbdde3" stroke="#b8123a" stroke-width="1.0"/>
<circle cx="116.50" cy="370.10" r="1.45" fill="#fbdde3" stroke="#b8123a" stroke-width="1.0"/>
<circle cx="119.30" cy="345.80" r="1.45" fill="#fbdde3" stroke="#b8123a" stroke-width="1.0"/>
<circle cx="123.00" cy="350.00" r="1.45" fill="#fbdde3" stroke="#b8123a" stroke-width="1.0"/>
<circle cx="123.70" cy="329.00" r="1.45" fill="#fbdde3" stroke="#b8123a" stroke-width="1.0"/>
<circle cx="127.20" cy="347.20" r="1.45" fill="#fbdde3" stroke="#b8123a" stroke-width="1.0"/>
<circle cx="128.60" cy="348.60" r="1.45" fill="#fbdde3" stroke="#b8123a" stroke-width="1.0"/>
<circle cx="129.30" cy="350.60" r="1.45" fill="#fbdde3" stroke="#b8123a" stroke-width="1.0"/>
<circle cx="127.20" cy="357.60" r="1.45" fill="#fbdde3" stroke="#b8123a" stroke-width="1.0"/>
<circle cx="128.20" cy="360.40" r="1.45" fill="#fbdde3" stroke="#b8123a" stroke-width="1.0"/>
<circle cx="131.30" cy="334.90" r="1.45" fill="#fbdde3" stroke="#b8123a" stroke-width="1.0"/>
<circle cx="162.10" cy="317.00" r="1.45" fill="#fbdde3" stroke="#b8123a" stroke-width="1.0"/>
<circle cx="147.40" cy="323.80" r="1.45" fill="#fbdde3" stroke="#b8123a" stroke-width="1.0"/>
<circle cx="149.50" cy="324.30" r="1.45" fill="#fbdde3" stroke="#b8123a" stroke-width="1.0"/>
<circle cx="156.30" cy="330.10" r="1.45" fill="#fbdde3" stroke="#b8123a" stroke-width="1.0"/>
<circle cx="149.50" cy="334.00" r="1.45" fill="#fbdde3" stroke="#b8123a" stroke-width="1.0"/>
<circle cx="150.90" cy="335.70" r="1.45" fill="#fbdde3" stroke="#b8123a" stroke-width="1.0"/>
<circle cx="149.30" cy="339.20" r="1.45" fill="#fbdde3" stroke="#b8123a" stroke-width="1.0"/>
<circle cx="142.50" cy="340.40" r="1.45" fill="#fbdde3" stroke="#b8123a" stroke-width="1.0"/>
<circle cx="144.00" cy="341.30" r="1.45" fill="#fbdde3" stroke="#b8123a" stroke-width="1.0"/>
<circle cx="154.10" cy="340.90" r="1.45" fill="#fbdde3" stroke="#b8123a" stroke-width="1.0"/>
<circle cx="147.30" cy="345.20" r="1.45" fill="#fbdde3" stroke="#b8123a" stroke-width="1.0"/>
<circle cx="137.30" cy="346.80" r="1.45" fill="#fbdde3" stroke="#b8123a" stroke-width="1.0"/>
<circle cx="137.60" cy="349.50" r="1.45" fill="#fbdde3" stroke="#b8123a" stroke-width="1.0"/>
<circle cx="137.80" cy="351.90" r="1.45" fill="#fbdde3" stroke="#b8123a" stroke-width="1.0"/>
<circle cx="145.30" cy="348.90" r="1.45" fill="#fbdde3" stroke="#b8123a" stroke-width="1.0"/>
<circle cx="147.30" cy="349.10" r="1.45" fill="#fbdde3" stroke="#b8123a" stroke-width="1.0"/>
<circle cx="153.40" cy="350.00" r="1.45" fill="#fbdde3" stroke="#b8123a" stroke-width="1.0"/>
<circle cx="155.50" cy="349.50" r="1.45" fill="#fbdde3" stroke="#b8123a" stroke-width="1.0"/>
<circle cx="149.40" cy="353.20" r="1.45" fill="#fbdde3" stroke="#b8123a" stroke-width="1.0"/>
<circle cx="156.00" cy="353.70" r="1.45" fill="#fbdde3" stroke="#b8123a" stroke-width="1.0"/>
<circle cx="157.10" cy="355.90" r="1.45" fill="#fbdde3" stroke="#b8123a" stroke-width="1.0"/>
<circle cx="158.20" cy="356.40" r="1.45" fill="#fbdde3" stroke="#b8123a" stroke-width="1.0"/>
<circle cx="143.20" cy="357.50" r="1.45" fill="#fbdde3" stroke="#b8123a" stroke-width="1.0"/>
<circle cx="142.10" cy="359.10" r="1.45" fill="#fbdde3" stroke="#b8123a" stroke-width="1.0"/>
<circle cx="141.60" cy="361.20" r="1.45" fill="#fbdde3" stroke="#b8123a" stroke-width="1.0"/>
<circle cx="137.80" cy="362.30" r="1.45" fill="#fbdde3" stroke="#b8123a" stroke-width="1.0"/>
<circle cx="150.50" cy="357.00" r="1.45" fill="#fbdde3" stroke="#b8123a" stroke-width="1.0"/>
<circle cx="151.20" cy="359.10" r="1.45" fill="#fbdde3" stroke="#b8123a" stroke-width="1.0"/>
<circle cx="149.60" cy="360.20" r="1.45" fill="#fbdde3" stroke="#b8123a" stroke-width="1.0"/>
<circle cx="153.70" cy="357.00" r="1.45" fill="#fbdde3" stroke="#b8123a" stroke-width="1.0"/>
<circle cx="155.80" cy="361.20" r="1.45" fill="#fbdde3" stroke="#b8123a" stroke-width="1.0"/>
<circle cx="137.30" cy="367.10" r="1.45" fill="#fbdde3" stroke="#b8123a" stroke-width="1.0"/>
<circle cx="145.30" cy="367.10" r="1.45" fill="#fbdde3" stroke="#b8123a" stroke-width="1.0"/>
<circle cx="147.50" cy="373.00" r="1.45" fill="#fbdde3" stroke="#b8123a" stroke-width="1.0"/>
<circle cx="236.20" cy="248.30" r="1.45" fill="#fbdde3" stroke="#b8123a" stroke-width="1.0"/>
<text x="271.80" y="228.10" font-size="12.2" text-anchor="start" font-weight="bold" font-style="normal" fill="#000" textLength="8.00" lengthAdjust="spacingAndGlyphs">D</text>
<line x1="313.60" y1="232.70" x2="313.60" y2="373.10" stroke="#1a1a1a" stroke-width="1.25"/>
<line x1="312.60" y1="373.10" x2="520.00" y2="373.10" stroke="#1a1a1a" stroke-width="1.25"/>
<line x1="310.40" y1="373.10" x2="313.60" y2="373.10" stroke="#1a1a1a" stroke-width="1.1"/>
<text x="307.00" y="375.90" font-size="8.5" text-anchor="end" font-weight="normal" font-style="normal" fill="#333333" textLength="4.10" lengthAdjust="spacingAndGlyphs">0</text>
<line x1="310.40" y1="338.68" x2="313.60" y2="338.68" stroke="#1a1a1a" stroke-width="1.1"/>
<text x="307.00" y="341.48" font-size="8.5" text-anchor="end" font-weight="normal" font-style="normal" fill="#333333" textLength="8.20" lengthAdjust="spacingAndGlyphs">50</text>
<line x1="310.40" y1="304.25" x2="313.60" y2="304.25" stroke="#1a1a1a" stroke-width="1.1"/>
<text x="307.00" y="307.05" font-size="8.5" text-anchor="end" font-weight="normal" font-style="normal" fill="#333333" textLength="12.30" lengthAdjust="spacingAndGlyphs">100</text>
<line x1="310.40" y1="269.83" x2="313.60" y2="269.83" stroke="#1a1a1a" stroke-width="1.1"/>
<text x="307.00" y="272.63" font-size="8.5" text-anchor="end" font-weight="normal" font-style="normal" fill="#333333" textLength="12.30" lengthAdjust="spacingAndGlyphs">150</text>
<line x1="310.40" y1="235.40" x2="313.60" y2="235.40" stroke="#1a1a1a" stroke-width="1.1"/>
<text x="307.00" y="238.20" font-size="8.5" text-anchor="end" font-weight="normal" font-style="normal" fill="#333333" textLength="12.30" lengthAdjust="spacingAndGlyphs">200</text>
<text transform="translate(289.00,348.80) rotate(-90)" x="0" y="0" font-size="9.8" fill="#333333" textLength="92.50" lengthAdjust="spacingAndGlyphs">Mutant-CALR conc. (ng/ml)</text>
<line x1="347.90" y1="373.10" x2="347.90" y2="375.80" stroke="#1a1a1a" stroke-width="1.0"/>
<line x1="416.50" y1="373.10" x2="416.50" y2="375.80" stroke="#1a1a1a" stroke-width="1.0"/>
<line x1="485.40" y1="373.10" x2="485.40" y2="375.80" stroke="#1a1a1a" stroke-width="1.0"/>
<text x="347.80" y="386.00" font-size="8.2" text-anchor="middle" font-weight="normal" font-style="normal" fill="#333333" textLength="8.20" lengthAdjust="spacingAndGlyphs">ET</text>
<text x="416.30" y="386.00" font-size="8.2" text-anchor="middle" font-weight="normal" font-style="normal" fill="#333333" textLength="10.50" lengthAdjust="spacingAndGlyphs">MF</text>
<text x="485.10" y="386.00" font-size="8.2" text-anchor="middle" font-weight="normal" font-style="normal" fill="#333333" textLength="29.40" lengthAdjust="spacingAndGlyphs">Pre-PMF</text>
<text x="386.50" y="398.90" font-size="10.4" text-anchor="start" font-weight="normal" font-style="normal" fill="#333333" textLength="60.00" lengthAdjust="spacingAndGlyphs">Clinical diagnosis</text>
<line x1="345.00" y1="240.00" x2="414.50" y2="240.00" stroke="#1a1a1a" stroke-width="1.0"/>
<line x1="345.00" y1="238.30" x2="345.00" y2="241.70" stroke="#1a1a1a" stroke-width="1.0"/>
<line x1="414.50" y1="238.30" x2="414.50" y2="241.70" stroke="#1a1a1a" stroke-width="1.0"/>
<line x1="345.00" y1="250.50" x2="486.30" y2="250.50" stroke="#1a1a1a" stroke-width="1.0"/>
<line x1="345.00" y1="248.80" x2="345.00" y2="252.20" stroke="#1a1a1a" stroke-width="1.0"/>
<line x1="486.30" y1="248.80" x2="486.30" y2="252.20" stroke="#1a1a1a" stroke-width="1.0"/>
<line x1="416.30" y1="261.20" x2="486.30" y2="261.20" stroke="#1a1a1a" stroke-width="1.0"/>
<line x1="416.30" y1="259.50" x2="416.30" y2="262.90" stroke="#1a1a1a" stroke-width="1.0"/>
<line x1="486.30" y1="259.50" x2="486.30" y2="262.90" stroke="#1a1a1a" stroke-width="1.0"/>
<text x="363.5" y="237.6" font-size="7.6" fill="#333333" textLength="32.7" lengthAdjust="spacingAndGlyphs"><tspan font-style="italic">P</tspan> = .0067</text>
<text x="401.3" y="248.4" font-size="7.6" fill="#333333" textLength="28.6" lengthAdjust="spacingAndGlyphs"><tspan font-style="italic">P</tspan> = .023</text>
<text x="447.00" y="258.60" font-size="7.6" text-anchor="start" font-weight="normal" font-style="italic" fill="#333333" textLength="7.40" lengthAdjust="spacingAndGlyphs">ns</text>
<line x1="347.90" y1="330.40" x2="347.90" y2="354.10" stroke="#bb4258" stroke-width="1.1"/>
<line x1="347.90" y1="363.70" x2="347.90" y2="372.90" stroke="#bb4258" stroke-width="1.1"/>
<line x1="337.40" y1="330.40" x2="357.60" y2="330.40" stroke="#bb4258" stroke-width="1.2"/>
<line x1="337.40" y1="372.90" x2="357.60" y2="372.90" stroke="#bb4258" stroke-width="1.2"/>
<rect x="325.30" y="354.10" width="45.10" height="9.60" fill="#ea7567" stroke="#e06a5e" stroke-width="0.8"/>
<line x1="325.30" y1="360.40" x2="370.40" y2="360.40" stroke="#b8222a" stroke-width="1.6"/>
<line x1="416.50" y1="265.60" x2="416.50" y2="344.80" stroke="#4a6fae" stroke-width="1.1"/>
<line x1="416.50" y1="354.80" x2="416.50" y2="368.30" stroke="#4a6fae" stroke-width="1.1"/>
<line x1="406.60" y1="265.60" x2="426.80" y2="265.60" stroke="#4a6fae" stroke-width="1.2"/>
<line x1="406.60" y1="368.30" x2="426.80" y2="368.30" stroke="#4a6fae" stroke-width="1.2"/>
<rect x="393.90" y="344.80" width="45.10" height="10.00" fill="#6f8ccb" stroke="#5a78bb" stroke-width="0.8"/>
<line x1="393.90" y1="350.40" x2="439.00" y2="350.40" stroke="#3558a3" stroke-width="1.6"/>
<line x1="485.40" y1="331.10" x2="485.40" y2="339.50" stroke="#58a855" stroke-width="1.1"/>
<line x1="485.40" y1="364.30" x2="485.40" y2="368.30" stroke="#58a855" stroke-width="1.1"/>
<line x1="475.60" y1="331.10" x2="495.70" y2="331.10" stroke="#58a855" stroke-width="1.2"/>
<line x1="475.60" y1="368.30" x2="495.70" y2="368.30" stroke="#58a855" stroke-width="1.2"/>
<rect x="462.70" y="339.50" width="45.20" height="24.80" fill="#93d48c" stroke="#84c87e" stroke-width="0.8"/>
<line x1="462.70" y1="350.40" x2="507.90" y2="350.40" stroke="#3f9e3c" stroke-width="1.6"/>
</svg>
</body></html>
